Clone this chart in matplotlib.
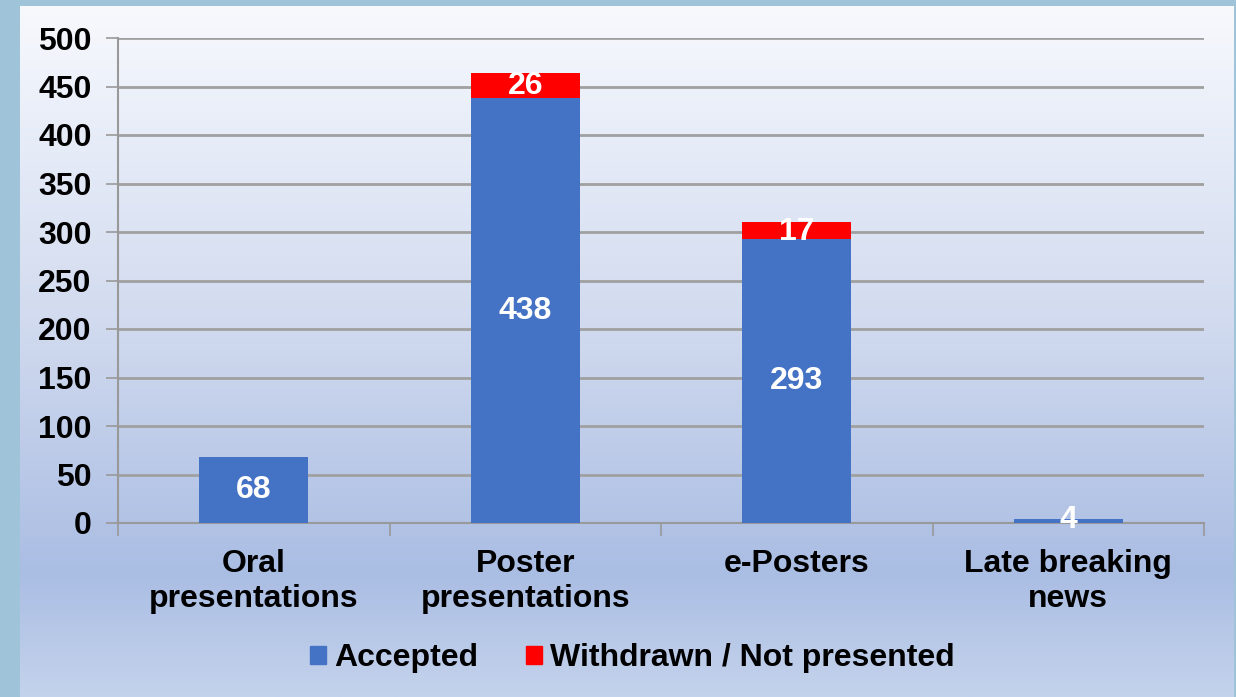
import numpy as np
import matplotlib
matplotlib.use("Agg")
import matplotlib.pyplot as plt
from matplotlib.colors import LinearSegmentedColormap
from matplotlib.patches import Patch

plt.rcParams['font.family'] = ['Liberation Sans', 'DejaVu Sans']
plt.rcParams['font.weight'] = 'bold'

categories = ["Oral\npresentations", "Poster\npresentations", "e-Posters", "Late breaking\nnews"]
accepted = [68, 438, 293, 4]
withdrawn = [0, 26, 17, 0]
yticks = [0, 50, 100, 150, 200, 250, 300, 350, 400, 450, 500]

W, H = 1236, 697
fig = plt.figure(figsize=(W / 100, H / 100), dpi=100)
fig.patch.set_facecolor("#9fc3d9")

# gradient panel
bg = fig.add_axes([20 / W, 0, (1234 - 20) / W, (H - 6) / H])
grad = LinearSegmentedColormap.from_list(
    "panel", [(0, "#f8f9fd"), (0.15, "#eaeff9"), (0.45, "#d2dbef"),
              (0.82, "#aabde3"), (1.0, "#c4d3ec")])
bg.imshow(np.linspace(0, 1, 256).reshape(-1, 1), aspect="auto", cmap=grad,
          extent=[0, 1, 1, 0])
bg.set_axis_off()

x0, x1, y0, y1 = 118, 1204, 523, 38
ax = fig.add_axes([x0 / W, 1 - y0 / H, (x1 - x0) / W, (y0 - y1) / H])
ax.patch.set_alpha(0)

x = np.arange(len(categories))
bw = 0.4
ax.bar(x, accepted, bw, color="#4472c4", label="Accepted", zorder=3)
ax.bar(x, withdrawn, bw, bottom=accepted, color="#ff0000",
       label="Withdrawn / Not presented", zorder=3)

for i, (a, w) in enumerate(zip(accepted, withdrawn)):
    ax.text(x[i], a / 2 if a > 10 else a - 1, str(a), ha="center", va="center",
            color="white", fontsize=23, fontweight="bold", zorder=4)
    if w:
        ax.text(x[i], a + w / 2 - 1, str(w), ha="center", va="center",
                color="white", fontsize=23, fontweight="bold", zorder=4)

ax.set_xlim(-0.5, len(categories) - 0.5)
ax.set_ylim(0, 500)
ax.set_yticks(yticks)
ax.yaxis.grid(True, color="#a0a0a0", linewidth=2, zorder=1)
ax.tick_params(axis="y", labelsize=23, length=9, width=1.2, color="#999999", pad=10)
ax.set_xticks(np.arange(-0.5, len(categories)), minor=False)
ax.set_xticklabels([])
ax.set_xticks(x, minor=True)
ax.set_xticklabels(categories, minor=True, fontsize=23, fontweight="bold",
                   linespacing=1.2)
ax.tick_params(axis="x", which="major", length=9, width=1.2, color="#999999")
ax.tick_params(axis="x", which="minor", length=0, pad=19)
for s in ["top", "right"]:
    ax.spines[s].set_visible(False)
for s in ["left", "bottom"]:
    ax.spines[s].set_color("#999999")
    ax.spines[s].set_linewidth(1.5)

handles = [Patch(color="#4472c4", label="Accepted"),
           Patch(color="#ff0000", label="Withdrawn / Not presented")]
fig.legend(handles=handles, loc="center", bbox_to_anchor=(632 / W, 1 - 658 / H),
           ncol=2, frameon=False, fontsize=23, handlelength=0.5, handleheight=0.5,
           handletextpad=0.25, columnspacing=1.5)

fig.savefig("out.png", dpi=100)
